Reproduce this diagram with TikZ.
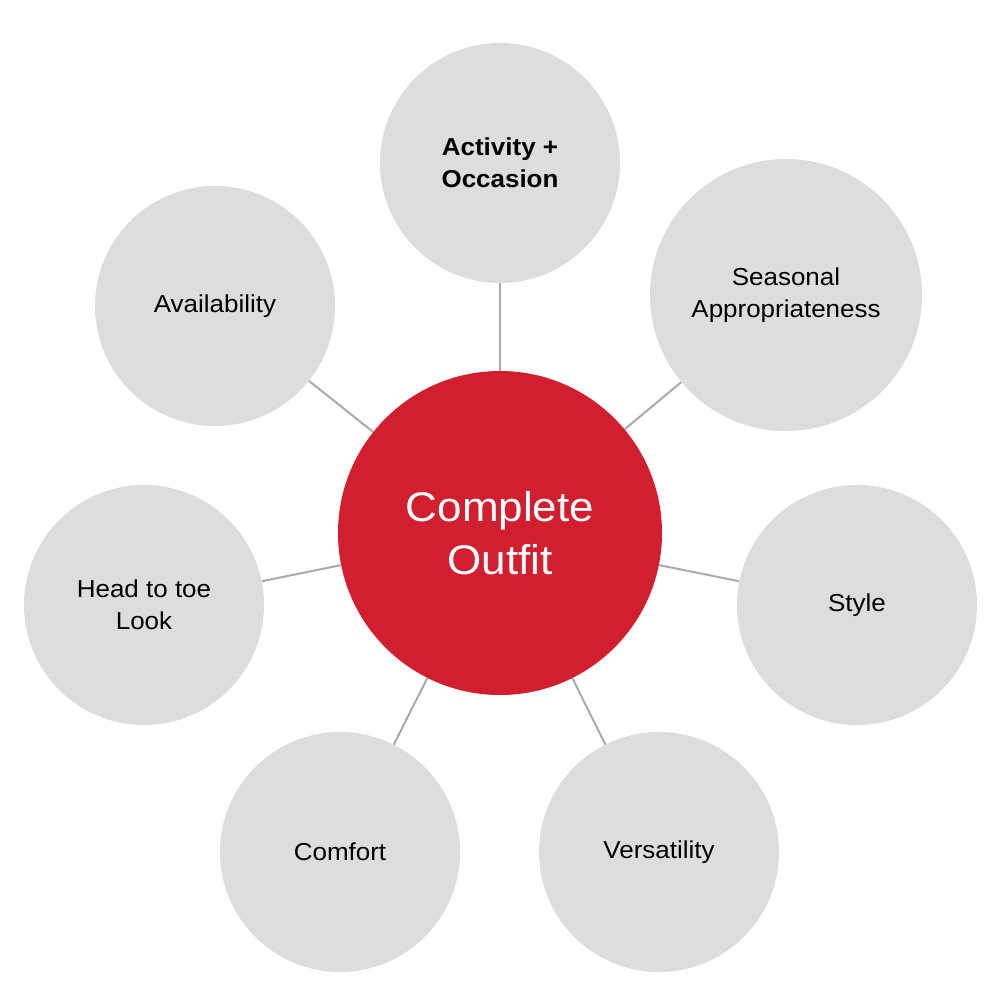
\documentclass[tikz,border=0pt]{standalone}
\usepackage{fontspec}
\setmainfont{Liberation Sans}[FakeStretch=1.06]
\definecolor{bubble}{HTML}{DDDDDD}
\definecolor{hub}{HTML}{D11F30}
\definecolor{link}{HTML}{AAAAAA}
\begin{document}
\begin{tikzpicture}[x=1pt,y=-1pt,
  outer/.style={circle,fill=bubble,minimum size=240pt,inner sep=0pt,align=center,
    font=\fontsize{24.5}{32}\selectfont,text=black},
  hubnode/.style={circle,fill=hub,minimum size=324pt,inner sep=0pt,align=center,
    font=\fontsize{41.5}{53}\selectfont,text=white},
  connector/.style={draw=link,line width=2pt}]
\useasboundingbox (0,0) rectangle (1000,1003);
\node[hubnode] (hub) at (500,533) {Complete\\Outfit};
\node[outer] (act) at (500,163) {\bfseries Activity +\\\bfseries Occasion};
\node[outer,minimum size=272pt] (sea) at (786,295) {Seasonal\\Appropriateness};
\node[outer] (sty) at (857,605) {Style};
\node[outer] (ver) at (659,852) {Versatility};
\node[outer] (com) at (340,852) {Comfort};
\node[outer] (head) at (144,605) {Head to toe\\Look};
\node[outer] (ava) at (215,306) {Availability};
\foreach \n in {act,sea,sty,ver,com,head,ava}
  \draw[connector] (hub) -- (\n);
\end{tikzpicture}
\end{document}
